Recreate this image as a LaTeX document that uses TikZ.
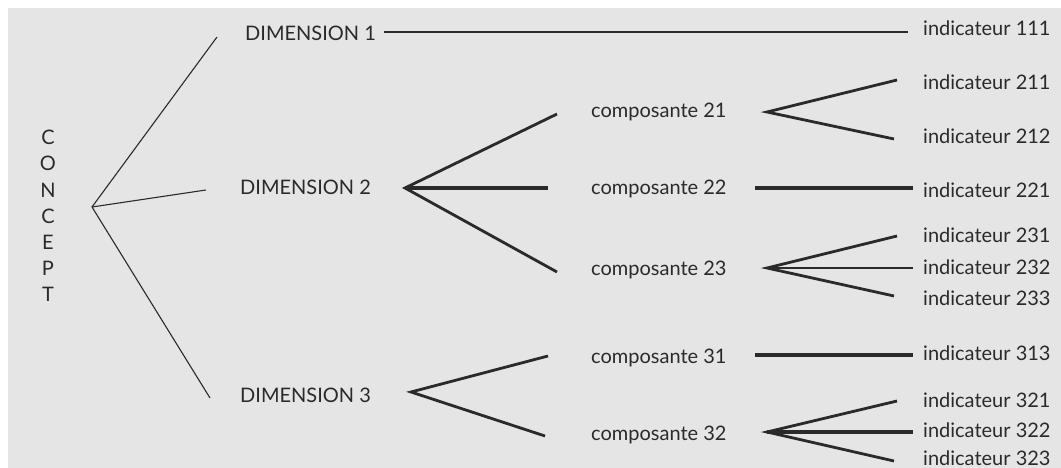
\documentclass[tikz,border=0pt]{standalone}
\usepackage{fontspec}
\setmainfont{Lato}
\definecolor{panel}{HTML}{E5E5E5}
\definecolor{ink}{HTML}{2A2A2A}
\begin{document}
\begin{tikzpicture}[x=1pt,y=-1pt,
  txt/.style={inner sep=0pt, anchor=base west, text=ink, font=\fontsize{20}{21}\selectfont},
  letter/.style={inner sep=0pt, anchor=base, text=ink, font=\fontsize{20}{21}\selectfont},
  thinline/.style={draw=ink, line width=1.1pt},
  midline/.style={draw=ink, line width=2pt},
  forkline/.style={draw=ink, line width=2.8pt, line join=miter, miter limit=20},
  boldline/.style={draw=ink, line width=3.4pt}]
\useasboundingbox (0,0) rectangle (1061,468);
\fill[white] (0,0) rectangle (1061,468);
\fill[panel] (8,8) rectangle (1061,468);

% vertical title
\foreach \ch [count=\i from 0] in {C,O,N,C,E,P,T}
  \node[letter] (t\i) at (48,{145+26*\i}) {\ch};

% dimensions
\node[txt] (d1) at (245,41)  {DIMENSION 1};
\node[txt] (d2) at (240,195) {DIMENSION 2};
\node[txt] (d3) at (240,402) {DIMENSION 3};

% components
\node[txt] (c21) at (591,118) {composante 21};
\node[txt] (c22) at (591,195) {composante 22};
\node[txt] (c23) at (591,275) {composante 23};
\node[txt] (c31) at (591,363) {composante 31};
\node[txt] (c32) at (591,440) {composante 32};

% indicators
\node[txt] (i111) at (923,36)  {indicateur 111};
\node[txt] (i211) at (923,90)  {indicateur 211};
\node[txt] (i212) at (923,144) {indicateur 212};
\node[txt] (i221) at (923,197) {indicateur 221};
\node[txt] (i231) at (923,243) {indicateur 231};
\node[txt] (i232) at (923,274) {indicateur 232};
\node[txt] (i233) at (923,305) {indicateur 233};
\node[txt] (i313) at (923,360) {indicateur 313};
\node[txt] (i321) at (923,407) {indicateur 321};
\node[txt] (i322) at (923,437) {indicateur 322};
\node[txt] (i323) at (923,465) {indicateur 323};

% branch points and line ends
\coordinate (root) at (92,207);
\coordinate (r1) at (217,37);
\coordinate (r2) at (206,190);
\coordinate (r3) at (210,398);

\coordinate (d1s) at (384,32);
\coordinate (d1e) at (908,32);

\coordinate (v2)  at (405,188);
\coordinate (v21) at (557,114);
\coordinate (v22) at (548,188);
\coordinate (v23) at (557,272);

\coordinate (v3)  at (411,392);
\coordinate (v31) at (548,356);
\coordinate (v32) at (545,436);

\coordinate (w21)  at (767,112);
\coordinate (w211) at (897,80);
\coordinate (w212) at (894,139);

\coordinate (w22s) at (755,188);
\coordinate (w22e) at (913,188);

\coordinate (w23)  at (767,268);
\coordinate (w231) at (897,236);
\coordinate (w232) at (913,268);
\coordinate (w233) at (894,296);

\coordinate (w31s) at (755,355);
\coordinate (w31e) at (913,355);

\coordinate (w32)  at (767,432);
\coordinate (w321) at (897,401);
\coordinate (w322) at (913,432);
\coordinate (w323) at (894,461);

% concept to dimensions
\draw[thinline] (r1) -- (root) -- (r3);
\draw[thinline] (root) -- (r2);

% dimension 1 straight to its indicator
\draw[midline] (d1s) -- (d1e);

% dimension forks
\draw[forkline] (v21) -- (v2) -- (v23);
\draw[boldline] (v2) -- (v22);
\draw[forkline] (v31) -- (v3) -- (v32);

% component forks
\draw[forkline] (w211) -- (w21) -- (w212);
\draw[boldline] (w22s) -- (w22e);
\draw[forkline] (w231) -- (w23) -- (w233);
\draw[forkline] (w23) -- (w232);
\draw[boldline] (w31s) -- (w31e);
\draw[forkline] (w321) -- (w32) -- (w323);
\draw[boldline] (w32) -- (w322);
\end{tikzpicture}
\end{document}
